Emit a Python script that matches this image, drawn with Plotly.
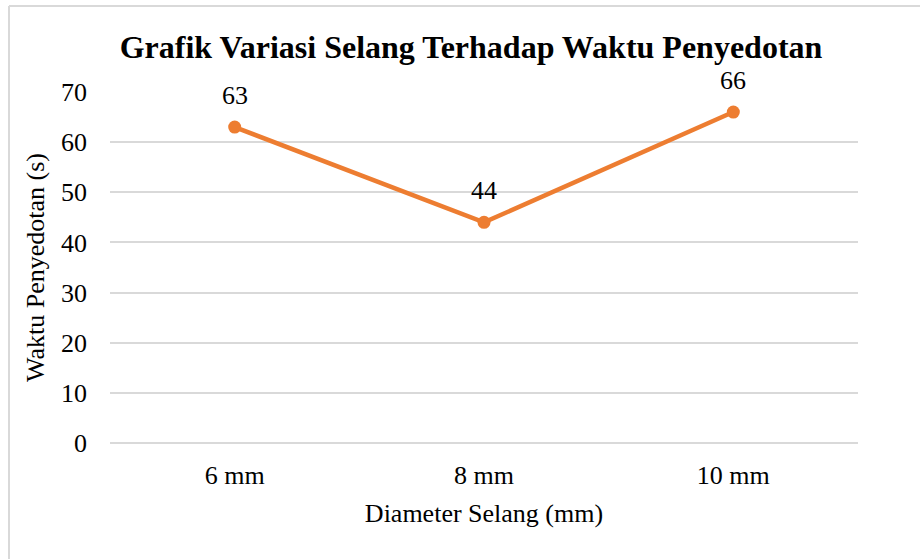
import plotly.graph_objects as go

categories = ["6 mm", "8 mm", "10 mm"]
values = [63, 44, 66]
y_ticks = [0, 10, 20, 30, 40, 50, 60, 70]

FONT = "Liberation Serif"
ORANGE = "#ED7D31"
W, H = 920, 559
ML, MR, MT, MB = 110, 62, 92, 116

fig = go.Figure()
fig.add_trace(go.Scatter(
    x=categories, y=values, mode="lines+markers",
    line=dict(color=ORANGE, width=4.5),
    marker=dict(color=ORANGE, size=13),
    hoverinfo="skip", showlegend=False,
))
for c, v in zip(categories, values):
    fig.add_annotation(x=c, y=v, text=str(v), showarrow=False, yshift=32,
                       font=dict(family=FONT, size=26, color="#000"))

pw = W - ML - MR
ph = H - MT - MB
bx = (9 - ML) / pw
by = (H - MB - 6) / ph

fig.update_layout(
    width=W, height=H,
    margin=dict(l=ML, r=MR, t=MT, b=MB),
    paper_bgcolor="white", plot_bgcolor="white",
    font=dict(family=FONT, size=26, color="#000"),
    title=dict(text="<b>Grafik Variasi Selang Terhadap Waktu Penyedotan</b>",
               x=471 / W, xanchor="center", y=1 - 47 / H, yanchor="middle",
               yref="container", font=dict(family=FONT, size=32, color="#000")),
    xaxis=dict(type="category", range=[-0.5, 2.5], showgrid=False, zeroline=False,
               showline=False, ticks="", ticklabelstandoff=14,
               tickfont=dict(family=FONT, size=26, color="#000"),
               title=dict(text="Diameter Selang (mm)", standoff=14,
                          font=dict(family=FONT, size=26, color="#000"))),
    yaxis=dict(range=[0, 70], tickvals=y_ticks, showgrid=True, gridcolor="#D9D9D9",
               gridwidth=1.5, zeroline=True, zerolinecolor="#D9D9D9", zerolinewidth=1.5,
               showline=False, ticks="",
               ticklabelstandoff=22,
               tickfont=dict(family=FONT, size=26, color="#000"),
               title=dict(text="Waktu Penyedotan (s)", standoff=8,
                          font=dict(family=FONT, size=26, color="#000"))),
    shapes=[
        dict(type="line", xref="paper", yref="paper", x0=bx, x1=1.2, y0=by, y1=by,
             line=dict(color="#D9D9D9", width=2)),
        dict(type="line", xref="paper", yref="paper", x0=bx, x1=bx, y0=by, y1=-0.5,
             line=dict(color="#D9D9D9", width=2)),
    ],
)
fig.write_html("out.html", config={"displayModeBar": False},
               post_script="document.body.style.margin='0';document.body.style.overflow='hidden';")
